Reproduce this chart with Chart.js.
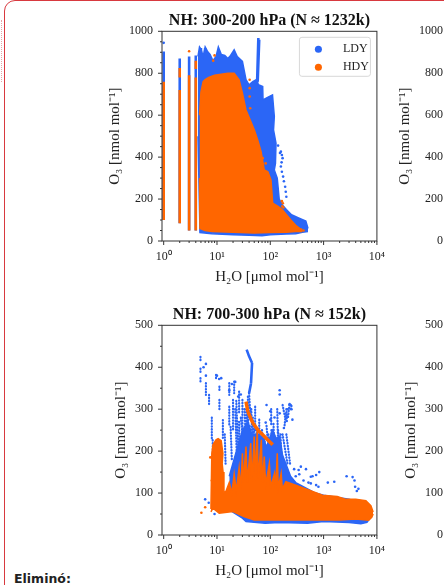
<!DOCTYPE html>
<html><head><meta charset="utf-8">
<script src="https://cdn.jsdelivr.net/npm/chart.js@4"></script>
<style>
html,body{margin:0;padding:0;width:444px;height:585px;overflow:hidden;background:#fff;position:relative}
canvas{position:absolute}
#card{position:absolute;left:4px;top:0;width:600px;height:800px;border:1.5px solid #d8393f;border-radius:11px;box-sizing:border-box}
#dots{position:absolute;left:1px;top:20px;width:2px;height:62px;border-left:1.5px dotted #eaa0a4}
#note{position:absolute;left:14px;top:571px;font:bold 12.5px "DejaVu Sans",sans-serif;color:#222}
</style></head><body>
<div id="card"></div><div id="dots"></div><div id="note">Eliminó:</div>
<script>
const seriesNames = ['LDY','HDY'];
const titleTop = 'NH: 300-200 hPa (N ≈ 1232k)';
const titleBottom = 'NH: 700-300 hPa (N ≈ 152k)';
const xTickValues = [1,10,100,1000,10000];
const xTickLabels = ['10⁰','10¹','10²','10³','10⁴'];
const xMinorValues = [2,3,4,5,6,7,8,9,20,30,40,50,60,70,80,90,200,300,400,500,600,700,800,900,2000,3000,4000,5000,6000,7000,8000,9000];
const yTicksTop = [0,200,400,600,800,1000];
const yMinorTop = [50,100,150,250,300,350,450,500,550,650,700,750,850,900,950];
const yTicksBottom = [0,100,200,300,400,500];
const yMinorBottom = [50,150,250,350,450];

// 300-200 hPa : filled envelopes [x,y]
const topBlueUpper = [[4.4,880],[4.7,925],[5,915],[5.5,880],[6,925],[6.6,905],[7.4,890],[8.4,860],[9.6,880],[10.6,925],[12,890],[14,885],[16,870],[18,885],[21,912],[24,880],[30,856],[35,769],[40,745],[47,760],[54,769],[60,745],[72,737],[73,673],[89,685],[110,697],[119,594],[115,530],[128,466],[125,370],[119,339],[135,300],[147,200],[170,170],[200,150],[250,125],[340,110],[464,95],[510,60]];
const topBlueLower = [[4.4,500],[4.8,40],[8,35],[20,30],[40,27],[70,25],[100,30],[200,33],[300,35],[400,42],[510,45]];
const topOrangeUpper = [[4.7,600],[5,710],[5.5,760],[6,770],[7,780],[9,790],[12,795],[16,800],[21,800],[26,769],[30,705],[35,625],[40.5,586],[50,530],[58,482],[67,427],[77,339],[90,330],[103,291],[111,180],[140,165],[170,148],[243,100],[300,75],[400,50]];
const topOrangeLower = [[4.7,300],[4.8,60],[6,50],[8,45],[20,42],[50,38],[100,40],[200,42],[300,45],[400,45]];
// 300-200 hPa : solid streaks [x1,y1,x2,y2]
const topBlueColumns = [[1,100,1,904],[2,85,2,870],[3,50,3,880],[4,50,4,885],[5,40,5,920],[6,40,6,920],[59.7,968,56,720],[62,960,58,760]];
const topOrangeColumns = [[1,100,1,760],[2,85,2,720],[2,780,2,825],[3,50,3,790],[4,50,4,780],[4,820,4,860]];
// 300-200 hPa : scattered points [x,y]
const topBluePoints = [[1,945],[158,426],[165,410],[170,395],[163,375],[158,355],[165,330],[174,307],[180,285],[190,259],[195,235],[200,211],[152,420],[140,455]];
const topOrangePoints = [[3,905],[9,885],[8.5,860],[41,769],[41,729],[41,689],[42,633],[72,395],[82,370],[165,190],[172,180],[168,165],[176,160],[420,50],[380,55]];

// 700-300 hPa : filled envelopes [x,y]
const botBlueUpper = [[17,140],[22,190],[30,250],[38,270],[45,240],[60,240],[75,230],[85,210],[110,250],[130,230],[150,235],[170,190],[196,170],[240,140],[300,125],[500,110],[700,100],[1000,95],[3000,85],[7000,70],[8000,50]];
const botBlueLower = [[17,60],[30,40],[35,32],[80,28],[150,30],[500,28],[1000,32],[3000,30],[5000,27],[6500,30],[8000,45]];
const botOrangeUpper = [[7.7,62],[8,195],[8.4,215],[9.6,227],[10.5,230],[12,225],[12.9,195],[12.5,170],[13,150],[13.5,100],[14.8,105],[17,125],[19,100],[21,145],[23,105],[26,160],[28,110],[30,195],[31,125],[35,211],[37,125],[43,219],[45,125],[50,235],[52,130],[57,251],[59,135],[68,227],[71,125],[77,187],[82,120],[96,171],[102,115],[120,147],[126,110],[135,195],[141,112],[160,147],[168,110],[196,127],[300,119],[536,107],[950,95],[1800,92],[2630,85],[4000,85],[6210,82],[7700,70],[8500,55]];
const botOrangeLower = [[7.7,55],[8.4,64],[11,52],[20,56],[32,44],[50,36],[150,36],[300,36],[600,36],[1000,36],[2000,36],[4000,38],[7000,35],[8000,42],[8500,50]];
// 700-300 hPa : solid streaks
const botOrangeStreaks = [[35,318,38,294],[38,294,47,267],[47,267,59,250],[59,250,72,239],[72,239,89,227],[89,227,111,215]];
const botBlueStreaks = [[36,442,40,426],[40,426,45.5,410],[45.5,410,43.5,362],[43.5,362,40,338]];
// 700-300 hPa : dotted streaks
const botBlueDotted = [[4.9,425,4.9,414],[4.9,397,4.9,386],[4.9,374,4.9,366],[6.2,362,6.2,334],[7.1,334,7.1,310],[8,280,8,226],[8.3,226,8.5,150],[9.6,382,9.6,370],[11.1,354,11.1,342],[11.1,322,11.1,298],[12.9,274,12.9,226],[14,240,14.5,170],[17,362,17,334],[17,306,17,258],[18,258,19,180],[21,366,21,338],[20,322,20,250],[22,300,24,160],[23,320,25,200],[26,342,26,290],[26,270,27,170],[30,322,30,243],[28,280,33,190],[30,240,32,170],[33,300,36,170],[36,300,37,180],[38,330,39,220],[40,338,43,270],[41,260,42,190],[44,300,46,230],[47,280,48,190],[52,306,52,250],[48,260,55,190],[55,250,57,180],[62,275,62,235],[60,230,65,170],[70,250,75,200],[78,230,80,170],[85,260,95,190],[92,240,98,170],[104,300,104,260],[105,250,108,170],[115,265,118,210],[120,200,125,170],[130,230,128,170],[135,300,140,220],[140,250,150,190],[155,240,165,170],[170,310,190,280],[200,300,205,270],[195,290,185,260],[170,240,210,170],[228,310,215,280],[240,300,250,308],[200,240,235,170]];
const botBluePoints = [[5.6,400],[6.2,408],[6.2,380],[6,85],[7,77],[9,50],[8.4,110],[9.6,112],[10,380],[11,372],[12,374],[19,360],[22,365],[17,345],[25,330],[28,335],[85,310],[100,295],[150,345],[150,335],[180,255],[210,300],[230,312],[240,310],[250,300],[260,275],[150,290],[120,280],[100,275],[82,268],[280,157],[340,155],[374,163],[420,130],[467,157],[520,125],[575,139],[575,123],[620,140],[724,143],[724,119],[830,150],[1200,125],[1585,127],[2700,140],[3500,138],[3800,130],[3900,115],[4500,110],[4200,105],[350,145],[300,140],[800,115]];
const botOrangePoints = [[5.1,53],[6,66],[7.5,185],[8,130],[8.5,100],[9,110]];

function toPoints(list){ return list.map(p => ({x:p[0],y:p[1]})); }
function toSegments(list){
  const out=[];
  list.forEach(s=>{ out.push({x:s[0],y:s[1]},{x:s[2],y:s[3]},{x:NaN,y:NaN}); });
  return out;
}
const BLUE='#2b66f6', ORANGE='#ff6600', INK='#222';
const FAM='"Liberation Serif","Times New Roman",serif';

function band(name,upper,lower,color,order){
  return [
    {type:'line',label:name,data:toPoints(upper),borderColor:color,backgroundColor:color,borderWidth:1.5,pointRadius:0,fill:'+1',tension:0,order:order},
    {type:'line',label:name,data:toPoints(lower),borderColor:color,backgroundColor:color,borderWidth:1.5,pointRadius:0,fill:false,tension:0,order:order}
  ];
}
function segs(name,list,color,width,order,dash){
  return {type:'line',label:name,data:toSegments(list),borderColor:color,backgroundColor:color,borderWidth:width,pointRadius:0,spanGaps:false,fill:false,borderDash:dash||[],borderCapStyle:dash?'round':'butt',tension:0,order:order};
}
function pts(name,list,color,order){
  return {type:'scatter',label:name,data:toPoints(list),borderColor:color,backgroundColor:color,pointRadius:1.3,pointBorderWidth:0,pointStyle:'circle',order:order};
}

const frame={id:'frame',
  afterLayout(c){
    const lg=c.legend;
    if(c.options.plugins.legend.display && lg){
      const b=c.chartArea;
      lg.left=b.right-68; lg.right=b.right-3; lg.top=b.top+6; lg.bottom=b.top+60;
    }
  },
  beforeDraw(c){
    if(c.options.plugins.legend.display){
      const b=c.chartArea; const g=c.ctx;
      g.save();g.strokeStyle='#d8d8d8';g.lineWidth=1;g.fillStyle='#fff';
      g.beginPath();g.roundRect(b.right-77.5,b.top+6,71,39,2.5);g.fill();g.stroke();g.restore();
    }
  },
  afterDraw(c,a,o){
    const g=c.ctx,b=c.chartArea,sx=c.scales.x,sy=c.scales.y;
    g.save();g.strokeStyle='#333';g.lineWidth=1;
    const line=(x1,y1,x2,y2)=>{g.beginPath();g.moveTo(x1,y1);g.lineTo(x2,y2);g.stroke();};
    xTickValues.forEach(v=>{const p=sx.getPixelForValue(v);line(p,b.bottom,p,b.bottom+4);});
    xMinorValues.forEach(v=>{const p=sx.getPixelForValue(v);line(p,b.bottom,p,b.bottom+2);});
    o.major.forEach(v=>{const p=sy.getPixelForValue(v);line(b.left,p,b.left-4,p);});
    o.minor.forEach(v=>{const p=sy.getPixelForValue(v);line(b.left,p,b.left-2,p);});
    g.strokeRect(b.left,b.top,b.right-b.left,b.bottom-b.top);
    g.restore();
  }};

function panel(id,left,top,title,datasets,yTicks,yMinor,yMax,showLegend){
  const cv=document.createElement('canvas');
  cv.id=id;cv.style.left=left+'px';cv.style.top=top+'px';
  cv.style.width='300px';cv.style.height='293px';cv.width=300;cv.height=293;
  document.body.appendChild(cv);
  new Chart(cv,{
    data:{datasets:datasets},
    plugins:[frame],
    options:{
      responsive:false,animation:false,devicePixelRatio:1,
      layout:{padding:{left:0,right:12,top:0,bottom:0}},
      plugins:{
        frame:{major:yTicks,minor:yMinor},
        tooltip:{enabled:false},
        title:{display:true,text:title,fullSize:false,color:'#111',font:{family:FAM,size:16,weight:'bold'},padding:{top:11,bottom:1.1}},
        legend:{display:showLegend,position:'chartArea',align:'start',
          labels:{usePointStyle:true,boxWidth:7,boxHeight:5,color:INK,padding:6,font:{family:FAM,size:12},
            filter:(it,d)=>d.datasets[it.datasetIndex].legendEntry===true,
            generateLabels:(c)=>Chart.defaults.plugins.legend.labels.generateLabels(c).map(it=>({...it,text:'     '+it.text}))}}
      },
      scales:{
        x:{type:'logarithmic',min:0.93,max:10000,
          afterBuildTicks(s){s.ticks=xTickValues.map(v=>({value:v}));},
          afterFit(s){s.height=52;},
          ticks:{autoSkip:false,maxRotation:0,padding:5,color:INK,font:{family:FAM,size:12},
            callback:(v)=>{const i=xTickValues.indexOf(v);return i>=0?xTickLabels[i]:'';}},
          grid:{display:false,drawTicks:true,tickLength:4},border:{display:false},
          title:{display:true,text:'H₂O [μmol mol⁻¹]',color:INK,font:{family:FAM,size:15},padding:{top:0,bottom:6.5}}
        },
        y:{type:'linear',min:0,max:yMax,
          afterBuildTicks(s){s.ticks=yTicks.map(v=>({value:v}));},
          afterFit(s){s.width=72;},
          ticks:{autoSkip:false,padding:5,color:INK,font:{family:FAM,size:12},callback:(v)=>String(v)},
          grid:{display:false,drawTicks:true,tickLength:4},border:{display:false},
          title:{display:true,text:'O₃ [nmol mol⁻¹]',color:INK,font:{family:FAM,size:15},padding:{top:yMax===1000?16:22.5,bottom:0}}
        }
      }
    }
  });
}

function legendEntry(name,color,order){
  const d=pts(name,[],color,order);d.legendEntry=true;d.pointRadius=3.5;return d;
}
const topSets=[
  legendEntry(seriesNames[0],BLUE,0),legendEntry(seriesNames[1],ORANGE,0),
  ...band('b',topBlueUpper,topBlueLower,BLUE,6),
  segs('b',topBlueColumns,BLUE,2.6,6),
  pts('b',topBluePoints,BLUE,5),
  ...band('o',topOrangeUpper,topOrangeLower,ORANGE,3),
  segs('o',topOrangeColumns,ORANGE,2.6,3),
  pts('o',topOrangePoints,ORANGE,2)
];
const botSets=[
  ...band('b',botBlueUpper,botBlueLower,BLUE,6),
  segs('b',botBlueStreaks,BLUE,2.6,6),
  segs('b',botBlueDotted,BLUE,2.2,6,[0.5,2.4]),
  pts('b',botBluePoints,BLUE,5),
  ...band('o',botOrangeUpper,botOrangeLower,ORANGE,3),
  segs('o',botOrangeStreaks,ORANGE,3.5,3),
  pts('o',botOrangePoints,ORANGE,2)
];
panel('c1',90,0,titleTop,topSets,yTicksTop,yMinorTop,1000,true);
panel('c2',90,294,titleBottom,botSets,yTicksBottom,yMinorBottom,500,false);
panel('c3',380,0,titleTop,[],yTicksTop,yMinorTop,1000,false);
panel('c4',380,294,titleBottom,[],yTicksBottom,yMinorBottom,500,false);
</script>
</body></html>
